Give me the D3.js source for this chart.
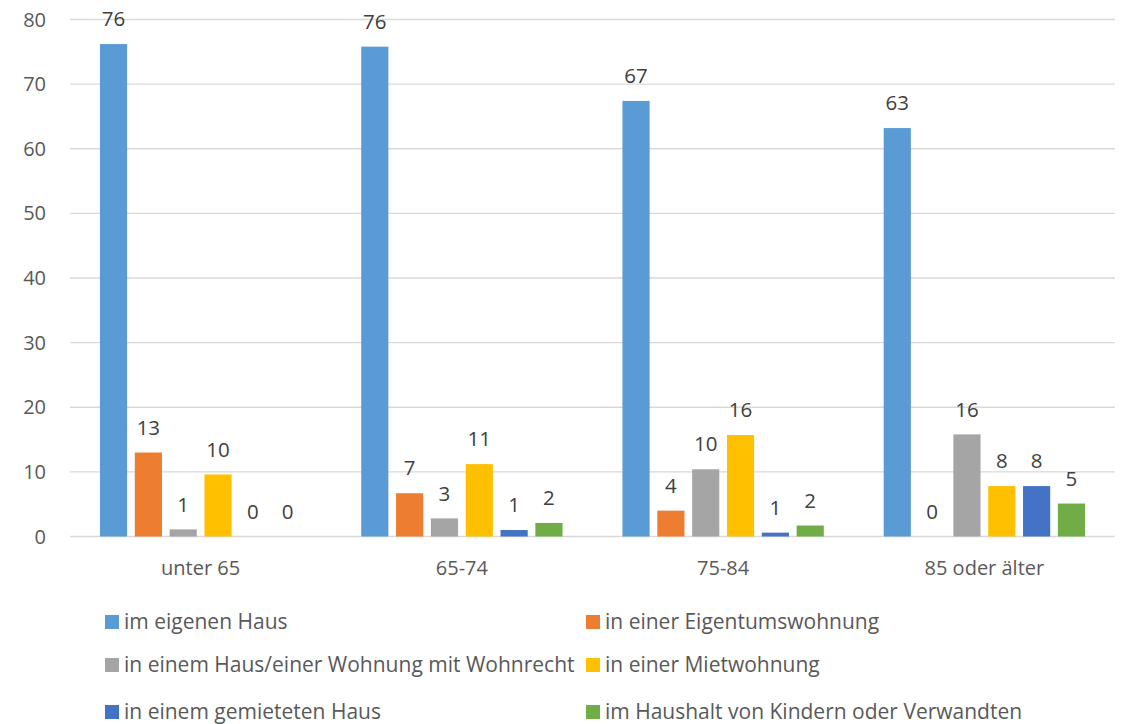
<!DOCTYPE html>
<html><head><meta charset="utf-8">
<script src="https://cdn.jsdelivr.net/npm/d3@7"></script>
<style>body{margin:0;background:#fff;} text{font-family:"Open Sans",sans-serif;}</style>
</head><body>
<svg id="c" width="1122" height="724"></svg>
<script>
const categories = ["unter 65", "65-74", "75-84", "85 oder älter"];
const seriesNames = ["im eigenen Haus", "in einer Eigentumswohnung", "in einem Haus/einer Wohnung mit Wohnrecht", "in einer Mietwohnung", "in einem gemieteten Haus", "im Haushalt von Kindern oder Verwandten"];
const seriesColors = ["#5B9BD5", "#ED7D31", "#A5A5A5", "#FFC000", "#4472C4", "#70AD47"];
const eigenesHaus = [76.2, 75.8, 67.4, 63.2];
const eigentumswohnung = [13.0, 6.7, 4.0, 0];
const wohnrecht = [1.1, 2.8, 10.4, 15.8];
const mietwohnung = [9.6, 11.2, 15.7, 7.8];
const gemietetesHaus = [0, 1.0, 0.6, 7.8];
const kinderVerwandte = [0, 2.1, 1.7, 5.1];
const yTicks = [0, 10, 20, 30, 40, 50, 60, 70, 80];

const seriesValues = [eigenesHaus, eigentumswohnung, wohnrecht, mietwohnung, gemietetesHaus, kinderVerwandte];

const svg = d3.select("#c");
const pLeft = 70, pRight = 1115, pTop = 19.5, pBottom = 536.5;

const y = d3.scaleLinear().domain([0, 80]).range([pBottom, pTop]);
const x0 = d3.scaleBand().domain(categories).range([pLeft, pRight]).paddingInner(0.2).paddingOuter(0.1);
const x1 = d3.scaleBand().domain(d3.range(6)).range([0, x0.bandwidth()]).paddingInner(0.22).paddingOuter(0.11);

// gridlines
svg.append("g").selectAll("line").data(yTicks).join("line")
  .attr("x1", pLeft).attr("x2", pRight)
  .attr("y1", d => y(d)).attr("y2", d => y(d))
  .attr("stroke", "#d9d9d9").attr("stroke-width", 1.3);

// y labels
svg.append("g").selectAll("text").data(yTicks).join("text")
  .attr("x", 46).attr("y", d => y(d)).attr("dy", "0.35em")
  .attr("text-anchor", "end").attr("font-size", 20).attr("fill", "#595959")
  .text(d => d);

// x labels
svg.append("g").selectAll("text").data(categories).join("text")
  .attr("x", d => x0(d) + x0.bandwidth() / 2).attr("y", 568).attr("dy", "0.35em")
  .attr("text-anchor", "middle").attr("font-size", 20).attr("fill", "#595959")
  .text(d => d);

const fmt = d3.format(".0f");
const groups = svg.append("g").selectAll("g").data(categories).join("g")
  .attr("transform", d => `translate(${x0(d)},0)`);

groups.each(function(cat, ci) {
  const g = d3.select(this);
  const data = seriesValues.map((vals, si) => ({si, v: vals[ci]}));
  g.selectAll("rect").data(data).join("rect")
    .attr("x", d => x1(d.si)).attr("width", x1.bandwidth())
    .attr("y", d => y(d.v)).attr("height", d => y(0) - y(d.v))
    .attr("fill", d => seriesColors[d.si]);
  g.selectAll("text").data(data).join("text")
    .attr("x", d => x1(d.si) + x1.bandwidth() / 2)
    .attr("y", d => y(d.v) - 25).attr("dy", "0.35em")
    .attr("text-anchor", "middle").attr("font-size", 20.5).attr("fill", "#404040")
    .text(d => fmt(d.v));
});

// legend
const legendPos = [[105, 622], [586, 622], [105, 665], [586, 665], [105, 712], [586, 712]];
const lg = svg.append("g").selectAll("g").data(seriesNames).join("g")
  .attr("transform", (d, i) => `translate(${legendPos[i][0]},${legendPos[i][1]})`);
lg.append("rect").attr("x", 0).attr("y", -7).attr("width", 14).attr("height", 14)
  .attr("fill", (d, i) => seriesColors[i]);
lg.append("text").attr("x", 19).attr("y", 0).attr("dy", "0.35em")
  .attr("font-size", 21).attr("fill", "#595959").text(d => d);
</script>
</body></html>
